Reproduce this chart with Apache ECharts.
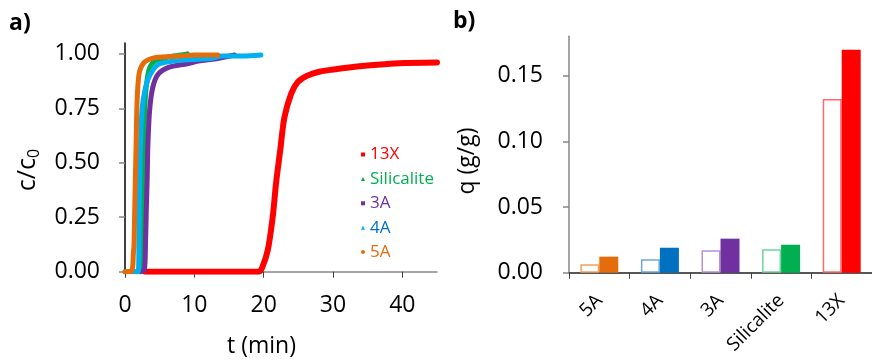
<!DOCTYPE html>
<html>
<head>
<meta charset="utf-8">
<script src="https://cdn.jsdelivr.net/npm/echarts@6/dist/echarts.min.js"></script>
<style>
	html, body { margin: 0; padding: 0; background: #fff; }
	#chart { width: 872px; height: 361px; }
</style>
</head>
<body>
<div id="chart"></div>
<script>
	/* a) breakthrough curves, [t (min), c/c0] */
	var curve13X = [[2.9, 0], [10, 0], [19.3, 0], [19.8, 0.02], [20.6, 0.1], [21.3, 0.25], [21.8, 0.41], [22.4, 0.56],
		[23.0, 0.71], [24.0, 0.82], [24.9, 0.87], [26.3, 0.9], [28.0, 0.918], [30, 0.928], [33.8, 0.943], [39.5, 0.957], [45, 0.961]];
	var curveSilicalite = [[0, 0], [2.3, 0], [2.45, 0.1], [2.55, 0.3], [2.65, 0.5], [2.75, 0.65], [2.9, 0.78], [3.1, 0.86],
		[3.5, 0.93], [4.2, 0.965], [5.5, 0.98], [7, 0.99], [9, 1.0]];
	var curve3A = [[2.2, 0], [2.8, 0.01], [2.95, 0.12], [3.07, 0.28], [3.2, 0.43], [3.3, 0.58], [3.55, 0.74], [4.0, 0.845],
		[4.75, 0.905], [6.2, 0.937], [9, 0.955], [10.8, 0.968], [12.6, 0.975], [15.8, 0.995]];
	var curve4A = [[1.5, 0], [1.9, 0], [2.0, 0.1], [2.05, 0.3], [2.15, 0.5], [2.25, 0.6], [2.45, 0.74], [2.85, 0.83], [3.55, 0.9],
		[4.75, 0.95], [6.6, 0.965], [9, 0.973], [12.6, 0.98], [14, 0.99], [17, 0.99], [19.6, 0.995]];
	var curve5A = [[0, 0], [0.8, 0], [1.1, 0.02], [1.2, 0.08], [1.3, 0.12], [1.4, 0.28], [1.5, 0.43], [1.6, 0.58], [1.7, 0.74],
		[1.85, 0.85], [2.1, 0.92], [2.6, 0.955], [3.3, 0.972], [4.5, 0.983], [8, 0.99], [10, 0.995], [13.4, 0.995]];
	var tTicks = [0, 10, 20, 30, 40];
	var cTicks = [0, 0.25, 0.5, 0.75, 1.0];

	/* b) adsorbed amounts */
	var sorbents = ['5A', '4A', '3A', 'Silicalite', '13X'];
	var qOpen = [0.0064, 0.0102, 0.017, 0.0178, 0.1322];
	var qFilled = [0.0122, 0.019, 0.0259, 0.0213, 0.1697];
	var qTicks = [0, 0.05, 0.10, 0.15];

	var barColors = ['#E46C0A', '#0070C0', '#7030A0', '#00B050', '#FF0000'];
	var openBorders = ['#F2A05C', '#6AA9DC', '#B593D2', '#6FD3A0', '#FF6A6A'];

	var font = 'Open Sans';
	var myChart = echarts.init(document.getElementById('chart'));

	function curveSeries(name, data, color, width) {
		return {
			name: name,
			type: 'line',
			xAxisIndex: 0,
			yAxisIndex: 0,
			data: data,
			symbol: 'none',
			smooth: 0.3,
			lineStyle: { color: color, width: width, cap: 'round', join: 'round' },
			itemStyle: { color: color },
			animation: false
		};
	}

	var option = {
		animation: false,
		textStyle: { fontFamily: font },
		grid: [
			{ left: 125, top: 43, width: 312, height: 228.7 },
			{ left: 569, top: 36.2, right: -12, height: 236.5 }
		],
		legend: {
			orient: 'vertical',
			left: 356,
			top: 140,
			itemWidth: 4,
			itemHeight: 4,
			itemGap: 5.4,
			textStyle: { fontFamily: font, fontSize: 17, lineHeight: 19 },
			data: [
				{ name: '13X', icon: 'rect', textStyle: { color: '#FF0000' } },
				{ name: 'Silicalite', icon: 'triangle', textStyle: { color: '#00B050' } },
				{ name: '3A', icon: 'rect', textStyle: { color: '#7030A0' } },
				{ name: '4A', icon: 'triangle', textStyle: { color: '#0070C0' } },
				{ name: '5A', icon: 'circle', textStyle: { color: '#E46C0A' } }
			]
		},
		xAxis: [{
			type: 'value',
			gridIndex: 0,
			min: 0,
			max: 45,
			axisLine: { lineStyle: { color: '#868686', width: 1.5 } },
			axisTick: { show: true, customValues: tTicks, length: 6, lineStyle: { color: '#404040' } },
			axisLabel: { customValues: tTicks, color: '#000', fontSize: 23, margin: 22 },
			splitLine: { show: false }
		}, {
			type: 'category',
			gridIndex: 1,
			data: sorbents,
			axisLine: { lineStyle: { color: '#202020', width: 1.5 } },
			axisTick: { show: true, alignWithLabel: false, length: 6, lineStyle: { color: '#404040' } },
			axisLabel: { color: '#000', fontSize: 19, rotate: 45, margin: 25, interval: 0 }
		}],
		yAxis: [{
			type: 'value',
			gridIndex: 0,
			min: 0,
			max: 1.05,
			axisLine: { show: true, lineStyle: { color: '#000', width: 1.5 } },
			axisTick: { show: true, customValues: cTicks, length: 6, lineStyle: { color: '#868686', width: 1.5 } },
			axisLabel: {
				customValues: cTicks, color: '#000', fontSize: 23, margin: 25,
				formatter: function(v) { return v.toFixed(2); }
			},
			splitLine: { show: false }
		}, {
			type: 'value',
			gridIndex: 1,
			min: 0,
			max: 0.18,
			axisLine: { show: true, lineStyle: { color: '#868686', width: 1.5 } },
			axisTick: { show: true, customValues: qTicks, length: 6, lineStyle: { color: '#868686', width: 1.5 } },
			axisLabel: {
				customValues: qTicks, color: '#000', fontSize: 23, margin: 26,
				formatter: function(v) { return v.toFixed(2); }
			},
			splitLine: { show: false }
		}],
		graphic: [
			{ type: 'text', left: 9, top: 12, style: { text: 'a)', font: 'bold 23px "Open Sans"', fill: '#000' } },
			{ type: 'text', left: 453, top: 10, style: { text: 'b)', font: 'bold 23px "Open Sans"', fill: '#000' } },
			{ type: 'text', left: 227, top: 335, style: { text: 't (min)', font: '23px "Open Sans"', fill: '#000' } },
			{
				type: 'text', x: 28, y: 170, rotation: Math.PI / 2,
				style: {
					text: 'c/c{s|0}', font: '25px "Open Sans"', fill: '#000',
					align: 'center', verticalAlign: 'middle',
					rich: { s: { fontSize: 16, fontFamily: font, padding: [12, 0, 0, 0] } }
				}
			},
			{
				type: 'text', x: 467, y: 161, rotation: Math.PI / 2,
				style: { text: 'q (g/g)', font: '23px "Open Sans"', fill: '#000', align: 'center', verticalAlign: 'middle' }
			}
		],
		series: [
			curveSeries('13X', curve13X, '#FF0000', 6),
			curveSeries('Silicalite', curveSilicalite, '#00B050', 5),
			curveSeries('3A', curve3A, '#7030A0', 5),
			curveSeries('4A', curve4A, '#00B0F0', 5),
			curveSeries('5A', curve5A, '#E46C0A', 5),
			{
				type: 'bar',
				xAxisIndex: 1,
				yAxisIndex: 1,
				barWidth: 19,
				barGap: '0%',
				data: qOpen.map(function(v, i) {
					return { value: v, itemStyle: { color: '#fff', borderColor: openBorders[i], borderWidth: 1.5 } };
				})
			},
			{
				type: 'bar',
				xAxisIndex: 1,
				yAxisIndex: 1,
				barWidth: 19,
				barGap: '0%',
				data: qFilled.map(function(v, i) {
					return { value: v, itemStyle: { color: barColors[i] } };
				})
			}
		]
	};

	myChart.setOption(option);
</script>
</body>
</html>
